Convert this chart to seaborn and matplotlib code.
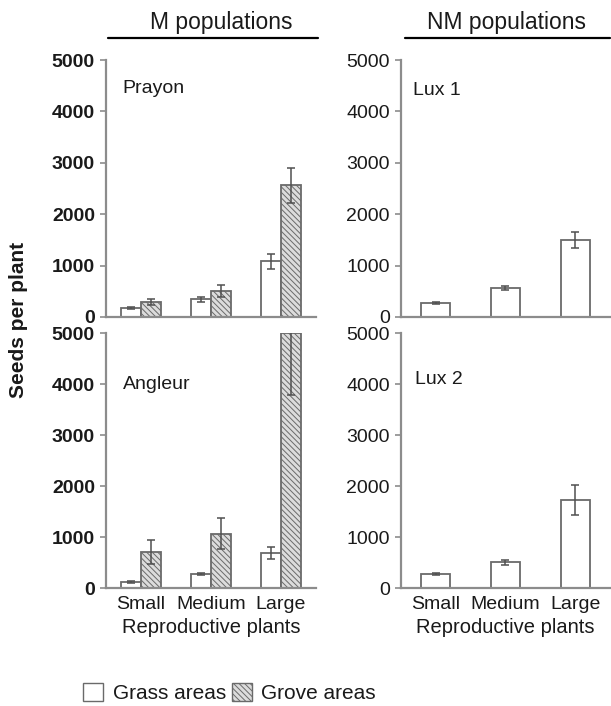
import numpy as np
import pandas as pd
import matplotlib.pyplot as plt
import seaborn as sns
from matplotlib.lines import Line2D
from matplotlib.patches import Patch

sns.set_style("ticks")
plt.rcParams['font.family'] = ['Liberation Sans', 'DejaVu Sans']
plt.rcParams['hatch.linewidth'] = 0.7
plt.rcParams['hatch.color'] = '#8a8a8a'

sizes = ["Small", "Medium", "Large"]
areas = ["Grass areas", "Grove areas"]

prayon_grass = [175, 344, 1084]
prayon_grass_err = [25, 50, 150]
prayon_grove = [292, 506, 2560]
prayon_grove_err = [60, 110, 340]

angleur_grass = [123, 280, 682]
angleur_grass_err = [20, 25, 120]
angleur_grove = [714, 1065, 5000]
angleur_grove_err = [235, 305, 1220]

lux1 = [268, 556, 1497]
lux1_err = [20, 40, 160]
lux2 = [281, 510, 1732]
lux2_err = [15, 50, 300]

edge = '#6a6a6a'
spine = '#8c8c8c'
grove_fill = '#dcdcdc'
hatch = '\\\\\\\\\\\\'

fig = plt.figure(figsize=(6.11, 7.06), dpi=100)
ax_p = fig.add_axes([0.1735, 0.551, 0.3437, 0.364])
ax_a = fig.add_axes([0.1735, 0.167, 0.3437, 0.361])
ax_l1 = fig.add_axes([0.6563, 0.551, 0.342, 0.364])
ax_l2 = fig.add_axes([0.6563, 0.167, 0.342, 0.361])


def m_panel(ax, grass, grass_err, grove, grove_err, name, ty):
    df = pd.DataFrame({
        "size": sizes * 2,
        "area": [areas[0]] * 3 + [areas[1]] * 3,
        "seeds": grass + grove})
    sns.barplot(data=df, x="size", y="seeds", hue="area", palette=["white", grove_fill],
                edgecolor=edge, linewidth=1.3, width=0.58, errorbar=None, legend=False, ax=ax)
    for bar in ax.containers[1]:
        bar.set_hatch(hatch)
    errs = grass_err + grove_err
    bars = list(ax.containers[0]) + list(ax.containers[1])
    xs = [b.get_x() + b.get_width() / 2 for b in bars]
    ys = [b.get_height() for b in bars]
    ax.errorbar(xs, ys, yerr=errs, fmt='none', ecolor='#505050', elinewidth=1.1, capsize=3, capthick=1.1)
    ax.text(0.08, ty, name, transform=ax.transAxes, fontsize=14, va='center', color='#1a1a1a')


def nm_panel(ax, vals, errs, name, tx, ty):
    df = pd.DataFrame({"size": sizes, "seeds": vals})
    sns.barplot(data=df, x="size", y="seeds", color="white", edgecolor=edge,
                linewidth=1.3, width=0.42, errorbar=None, ax=ax)
    bars = list(ax.containers[0])
    xs = [b.get_x() + b.get_width() / 2 for b in bars]
    ys = [b.get_height() for b in bars]
    ax.errorbar(xs, ys, yerr=errs, fmt='none', ecolor='#505050', elinewidth=1.1, capsize=3, capthick=1.1)
    ax.text(tx, ty, name, transform=ax.transAxes, fontsize=14, va='center', color='#1a1a1a')


m_panel(ax_p, prayon_grass, prayon_grass_err, prayon_grove, prayon_grove_err, "Prayon", 0.89)
m_panel(ax_a, angleur_grass, angleur_grass_err, angleur_grove, angleur_grove_err, "Angleur", 0.80)
nm_panel(ax_l1, lux1, lux1_err, "Lux 1", 0.057, 0.88)
nm_panel(ax_l2, lux2, lux2_err, "Lux 2", 0.067, 0.82)

for ax in [ax_p, ax_a, ax_l1, ax_l2]:
    ax.set_ylim(0, 5000)
    ax.set_xlim(-0.5, 2.5)
    ax.set_yticks(np.arange(0, 5001, 1000))
    ax.set_ylabel("")
    ax.set_xlabel("")
    sns.despine(ax=ax)
    for s in ["left", "bottom"]:
        ax.spines[s].set_color(spine)
        ax.spines[s].set_linewidth(1.6)
    ax.tick_params(axis='y', length=4, width=1.2, color=spine, labelsize=14, pad=4, labelcolor='#1a1a1a')
    ax.tick_params(axis='x', length=0, labelsize=14, pad=6, labelcolor='#1a1a1a')

for ax in [ax_p, ax_a]:
    for lab in ax.get_yticklabels():
        lab.set_fontweight("bold")

for ax in [ax_p, ax_l1]:
    ax.set_xticklabels([])

for ax in [ax_a, ax_l2]:
    ax.set_xlabel("Reproductive plants", fontsize=14.5, labelpad=3, color='#1a1a1a')

fig.text(0.362, 0.968, "M populations", ha='center', va='center', fontsize=16.5, color='#1a1a1a')
fig.text(0.829, 0.968, "NM populations", ha='center', va='center', fontsize=16.5, color='#1a1a1a')
fig.add_artist(Line2D([0.177, 0.52], [0.946, 0.946], color='black', lw=1.6))
fig.add_artist(Line2D([0.663, 0.999], [0.946, 0.946], color='black', lw=1.6))

fig.text(0.03, 0.547, "Seeds per plant", rotation=90, ha='center', va='center',
         fontsize=15, fontweight='bold', color='#1a1a1a')

handles = [Patch(facecolor='white', edgecolor=edge, linewidth=1),
           Patch(facecolor=grove_fill, edgecolor=edge, linewidth=1, hatch=hatch)]
fig.legend(handles, areas, loc='lower left', bbox_to_anchor=(0.116, -0.014), ncol=2,
           frameon=False, fontsize=15, handlelength=0.95, handleheight=0.95, borderpad=0.1,
           handletextpad=0.45, columnspacing=0.3, labelcolor='#1a1a1a')

plt.savefig("out.png", dpi=100)
plt.close()
